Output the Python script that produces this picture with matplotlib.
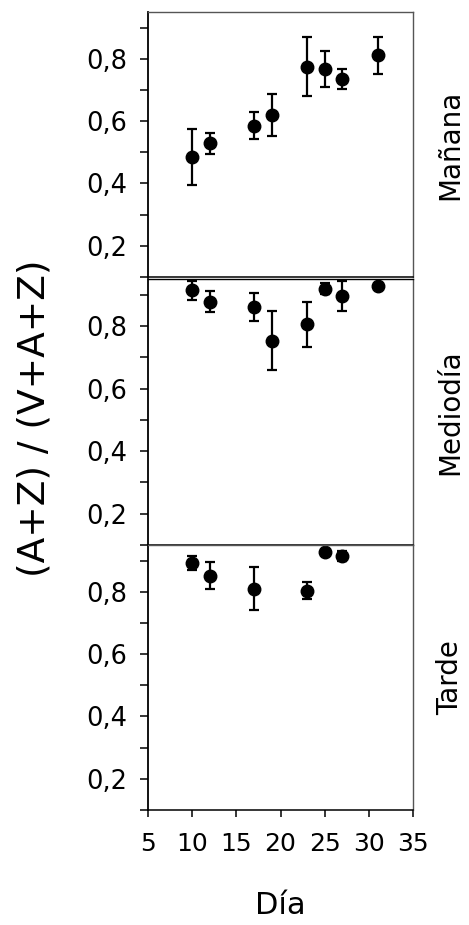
import numpy as np
import matplotlib
matplotlib.use("Agg")
import matplotlib.pyplot as plt
from matplotlib.ticker import FuncFormatter

plt.rcParams['font.family'] = ['DejaVu Sans']

# data
dia_manana = [10, 12, 17, 19, 23, 25, 27, 31]
val_manana = [0.486, 0.529, 0.585, 0.619, 0.775, 0.766, 0.736, 0.811]
err_manana = [0.09, 0.034, 0.043, 0.067, 0.094, 0.058, 0.032, 0.06]

dia_mediodia = [10, 12, 17, 19, 23, 25, 27, 31]
val_mediodia = [0.914, 0.878, 0.861, 0.753, 0.805, 0.919, 0.896, 0.927]
err_mediodia = [0.03, 0.035, 0.045, 0.095, 0.071, 0.018, 0.048, 0.0]

dia_tarde = [10, 12, 17, 23, 25, 27]
val_tarde = [0.892, 0.852, 0.810, 0.804, 0.927, 0.915]
err_tarde = [0.023, 0.043, 0.068, 0.027, 0.0, 0.017]

paneles = ["Mañana", "Mediodía", "Tarde"]
x_ticks = [5, 10, 15, 20, 25, 30, 35]
y_major = [0.2, 0.4, 0.6, 0.8]
y_minor = [0.1, 0.3, 0.5, 0.7, 0.9]

series = [(dia_manana, val_manana, err_manana),
          (dia_mediodia, val_mediodia, err_mediodia),
          (dia_tarde, val_tarde, err_tarde)]

fig = plt.figure(figsize=(4.69, 9.25), dpi=100)

W, H = 469.0, 925.0
left = 148 / W
width = (413 - 148) / W
# pixel top/bottom of each panel
bounds = [(12, 277), (279, 545), (545, 810)]

coma = FuncFormatter(lambda v, p: ("%.1f" % v).replace(".", ","))

for i, ((x, y, e), nombre) in enumerate(zip(series, paneles)):
    top, bot = bounds[i]
    ax = fig.add_axes([left, (H - bot) / H, width, (bot - top) / H])
    ax.errorbar(x, y, yerr=e, fmt='o', color='black', ms=9,
                elinewidth=1.6, capsize=3.5, capthick=1.6)
    ax.set_xlim(5, 35)
    ax.set_ylim(0.1, 0.95)
    ax.set_yticks(y_major)
    ax.set_yticks(y_minor, minor=True)
    ax.yaxis.set_major_formatter(coma)
    ax.tick_params(axis='y', which='both', direction='out', length=6,
                   width=1.1, labelsize=18.5, pad=9)
    for s in ['top', 'right']:
        ax.spines[s].set_color('#555555')
        ax.spines[s].set_linewidth(1.0)
    ax.spines['left'].set_linewidth(1.3)
    ax.spines['bottom'].set_linewidth(1.1)
    if i == 1:
        ax.spines['top'].set_color('black')
    if i < 2:
        ax.tick_params(axis='x', which='both', bottom=False, labelbottom=False)
    else:
        ax.set_xticks(x_ticks)
        ax.tick_params(axis='x', direction='out', length=5, width=1.1,
                       labelsize=18, pad=11)
    fig.text(450 / W, 1 - ((top + bot) / 2) / H, nombre, rotation=90,
             ha='center', va='center', fontsize=20)

fig.text(35 / W, 1 - 418 / H, "(A+Z) / (V+A+Z)", rotation=90,
         ha='center', va='center', fontsize=27)
fig.text((148 + 413) / 2 / W, 1 - 906 / H, "Día", ha='center', va='center',
         fontsize=22)

fig.savefig("out.png", dpi=100)
